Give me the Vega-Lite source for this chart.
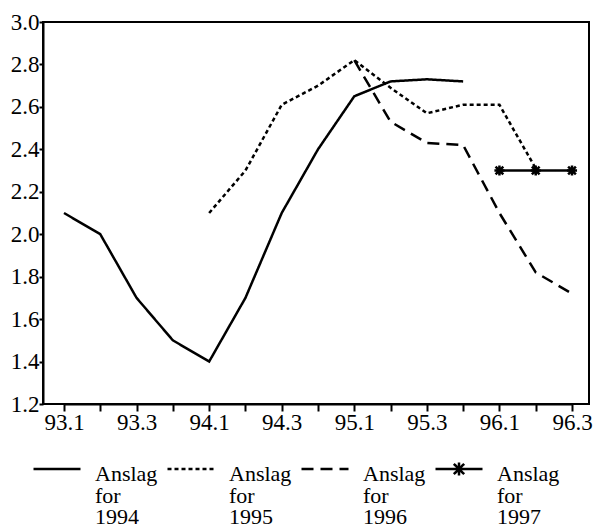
{
  "$schema": "https://vega.github.io/schema/vega-lite/v6.json",
  "autosize": {"type": "none"},
  "width": 546,
  "height": 382,
  "padding": {"top": 22, "left": 43, "right": 8, "bottom": 120},
  "title": {
    "text": "Anslag for prisvekst i konsumprisindeksen",
    "anchor": "start",
    "frame": "group",
    "dx": 117,
    "baseline": "alphabetic",
    "offset": 21,
    "font": "Liberation Serif",
    "fontSize": 18,
    "fontWeight": "bold",
    "color": "black"
  },
  "config": {
    "font": "Liberation Serif",
    "view": {"stroke": "black", "strokeWidth": 2},
    "axis": {
      "labelFont": "Liberation Serif",
      "labelFontSize": 23,
      "labelColor": "black",
      "domainColor": "black",
      "domainWidth": 2,
      "tickColor": "black",
      "tickWidth": 2,
      "grid": false,
      "title": null
    }
  },
  "data": {
    "values": [
      {"kv": "93.1", "serie": "Anslag for 1994", "verdi": 2.1},
      {"kv": "93.2", "serie": "Anslag for 1994", "verdi": 2.0},
      {"kv": "93.3", "serie": "Anslag for 1994", "verdi": 1.7},
      {"kv": "93.4", "serie": "Anslag for 1994", "verdi": 1.5},
      {"kv": "94.1", "serie": "Anslag for 1994", "verdi": 1.4},
      {"kv": "94.2", "serie": "Anslag for 1994", "verdi": 1.7},
      {"kv": "94.3", "serie": "Anslag for 1994", "verdi": 2.1},
      {"kv": "94.4", "serie": "Anslag for 1994", "verdi": 2.4},
      {"kv": "95.1", "serie": "Anslag for 1994", "verdi": 2.65},
      {"kv": "95.2", "serie": "Anslag for 1994", "verdi": 2.72},
      {"kv": "95.3", "serie": "Anslag for 1994", "verdi": 2.73},
      {"kv": "95.4", "serie": "Anslag for 1994", "verdi": 2.72},
      {"kv": "94.1", "serie": "Anslag for 1995", "verdi": 2.1},
      {"kv": "94.2", "serie": "Anslag for 1995", "verdi": 2.3},
      {"kv": "94.3", "serie": "Anslag for 1995", "verdi": 2.61},
      {"kv": "94.4", "serie": "Anslag for 1995", "verdi": 2.7},
      {"kv": "95.1", "serie": "Anslag for 1995", "verdi": 2.82},
      {"kv": "95.2", "serie": "Anslag for 1995", "verdi": 2.69},
      {"kv": "95.3", "serie": "Anslag for 1995", "verdi": 2.57},
      {"kv": "95.4", "serie": "Anslag for 1995", "verdi": 2.61},
      {"kv": "96.1", "serie": "Anslag for 1995", "verdi": 2.61},
      {"kv": "96.2", "serie": "Anslag for 1995", "verdi": 2.31},
      {"kv": "95.1", "serie": "Anslag for 1996", "verdi": 2.82},
      {"kv": "95.2", "serie": "Anslag for 1996", "verdi": 2.53},
      {"kv": "95.3", "serie": "Anslag for 1996", "verdi": 2.43},
      {"kv": "95.4", "serie": "Anslag for 1996", "verdi": 2.42},
      {"kv": "96.1", "serie": "Anslag for 1996", "verdi": 2.1},
      {"kv": "96.2", "serie": "Anslag for 1996", "verdi": 1.82},
      {"kv": "96.3", "serie": "Anslag for 1996", "verdi": 1.72},
      {"kv": "96.1", "serie": "Anslag for 1997", "verdi": 2.3},
      {"kv": "96.2", "serie": "Anslag for 1997", "verdi": 2.3},
      {"kv": "96.3", "serie": "Anslag for 1997", "verdi": 2.3}
    ]
  },
  "encoding": {
    "x": {
      "field": "kv",
      "type": "ordinal",
      "sort": null,
      "scale": {
        "type": "point",
        "domain": ["93.1","93.2","93.3","93.4","94.1","94.2","94.3","94.4","95.1","95.2","95.3","95.4","96.1","96.2","96.3"],
        "range": [21, 529],
        "padding": 0
      },
      "axis": {
        "labelAngle": 0,
        "tickSize": 7,
        "labelPadding": 0,
        "labelExpr": "test(/\\.[13]$/, datum.value) ? datum.value : ''"
      }
    },
    "y": {
      "field": "verdi",
      "type": "quantitative",
      "scale": {"domain": [1.2, 3.0], "nice": false, "zero": false},
      "axis": {
        "values": [1.2, 1.4, 1.6, 1.8, 2.0, 2.2, 2.4, 2.6, 2.8, 3.0],
        "format": ".1f",
        "tickSize": 4,
        "labelPadding": 0
      }
    }
  },
  "layer": [
    {
      "mark": {"type": "line", "color": "black", "strokeWidth": 2.5},
      "encoding": {
        "strokeDash": {
          "field": "serie",
          "type": "nominal",
          "scale": {
            "domain": ["Anslag for 1994", "Anslag for 1995", "Anslag for 1996", "Anslag for 1997"],
            "range": [[1, 0], [4, 3], [12, 7], [1, 0]]
          },
          "legend": {
            "title": null,
            "orient": "none",
            "legendX": -11,
            "legendY": 422,
            "direction": "horizontal",
            "columns": 4,
            "columnPadding": 4,
            "symbolSize": 2209,
            "symbolStrokeWidth": 2.5,
            "symbolStrokeColor": "black",
            "labelFont": "Liberation Serif",
            "labelFontSize": 22,
            "labelColor": "black",
            "labelOffset": 13,
            "labelLimit": 0,
            "labelBaseline": "alphabetic",
            "labelExpr": "split(datum.label, ' ')",
            "encode": {
              "labels": {"update": {"lineHeight": {"value": 21.5}, "dy": {"value": 12}}},
              "symbols": {
                "update": {
                  "shape": {"signal": "datum.value == 'Anslag for 1997' ? 'M-1,0H1M-0.22,-0.22L0.22,0.22M-0.22,0.22L0.22,-0.22M0,-0.28V0.28M-0.28,0H0.28' : 'stroke'"}
                }
              }
            }
          }
        }
      }
    },
    {
      "transform": [{"filter": "datum.serie == 'Anslag for 1997'"}],
      "mark": {
        "type": "point",
        "shape": "M-1,-1L1,1M-1,1L1,-1M0,-1.3V1.3M-1.3,0H1.3",
        "size": 60,
        "filled": false,
        "stroke": "black",
        "strokeWidth": 2.5,
        "opacity": 1
      }
    }
  ]
}
